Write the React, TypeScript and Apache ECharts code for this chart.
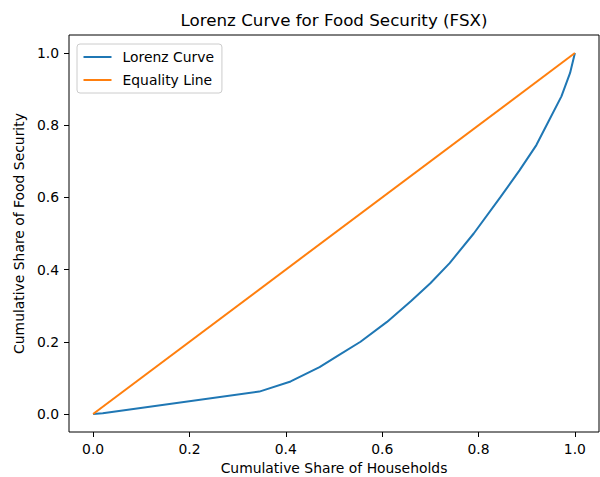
import React, { useEffect, useRef } from "react";
import * as echarts from "echarts";

const lorenzX = [0, 0.02, 0.345, 0.41, 0.47, 0.51, 0.555, 0.61, 0.66, 0.7, 0.74, 0.79, 0.845, 0.885, 0.92, 0.947, 0.972, 0.99, 1.0];
const lorenzY = [0, 0.002, 0.062, 0.09, 0.13, 0.163, 0.2, 0.255, 0.313, 0.362, 0.418, 0.5, 0.6, 0.675, 0.745, 0.815, 0.88, 0.945, 1.0];
const equalityX = [0, 1];
const equalityY = [0, 1];
const tickValues = [0, 0.2, 0.4, 0.6, 0.8, 1.0];

const FONT = "DejaVu Sans";

export default function App() {
  const ref = useRef<HTMLDivElement>(null);
  useEffect(() => {
    if (!ref.current) return;
    const chart = echarts.init(ref.current, undefined, { renderer: "svg" });
    const axisCommon = {
      type: "value" as const,
      min: -0.05,
      max: 1.05,
      splitLine: { show: false },
      axisLine: { show: false, onZero: false },
      axisTick: {
        show: true,
        length: 5,
        inside: false,
        customValues: tickValues,
        lineStyle: { color: "#000", width: 1 },
      },
      axisLabel: {
        customValues: tickValues,
        formatter: (v: number) => v.toFixed(1),
        color: "#000",
        fontFamily: FONT,
        fontSize: 13.9,
        margin: 10,
      },
      nameLocation: "middle" as const,
      nameTextStyle: { color: "#000", fontFamily: FONT, fontSize: 13.9 },
    };
    chart.setOption({
      animation: false,
      grid: {
        left: 69,
        top: 35,
        width: 530,
        height: 397,
        show: true,
        borderColor: "#000",
        borderWidth: 1,
        backgroundColor: "#fff",
        containLabel: false,
        outerBoundsMode: "none",
      },
      xAxis: { ...axisCommon, position: "bottom", name: "Cumulative Share of Households", nameGap: 29 },
      yAxis: { ...axisCommon, position: "left", name: "Cumulative Share of Food Security", nameGap: 38 },
      legend: {
        orient: "vertical",
        left: 77,
        top: 44,
        itemWidth: 28,
        itemHeight: 14,
        itemGap: 9,
        padding: [6, 8, 6, 5.5],
        borderColor: "#cccccc",
        borderWidth: 1,
        borderRadius: 3,
        backgroundColor: "rgba(255,255,255,0.8)",
        itemStyle: { opacity: 0 },
        lineStyle: { width: 2 },
        textStyle: { color: "#000", fontFamily: FONT, fontSize: 13.9, padding: [0, 0, 0, 6] },
        data: ["Lorenz Curve", "Equality Line"],
      },
      graphic: [
        {
          type: "text",
          x: 334,
          y: 20,
          style: {
            text: "Lorenz Curve for Food Security (FSX)",
            fontFamily: FONT,
            fontSize: 16.7,
            fill: "#000",
            textAlign: "center",
            textVerticalAlign: "middle",
          },
        },
      ],
      series: [
        {
          name: "Lorenz Curve",
          type: "line",
          data: lorenzX.map((x, i) => [x, lorenzY[i]]),
          symbol: "none",
          lineStyle: { color: "#1f77b4", width: 2 },
          itemStyle: { color: "#1f77b4" },
        },
        {
          name: "Equality Line",
          type: "line",
          data: equalityX.map((x, i) => [x, equalityY[i]]),
          symbol: "none",
          lineStyle: { color: "#ff7f0e", width: 2 },
          itemStyle: { color: "#ff7f0e" },
        },
      ],
    });
    return () => chart.dispose();
  }, []);
  return (
    <div
      ref={ref}
      style={{ position: "absolute", left: 0, top: 0, width: 600, height: 477, background: "#fff" }}
    />
  );
}
